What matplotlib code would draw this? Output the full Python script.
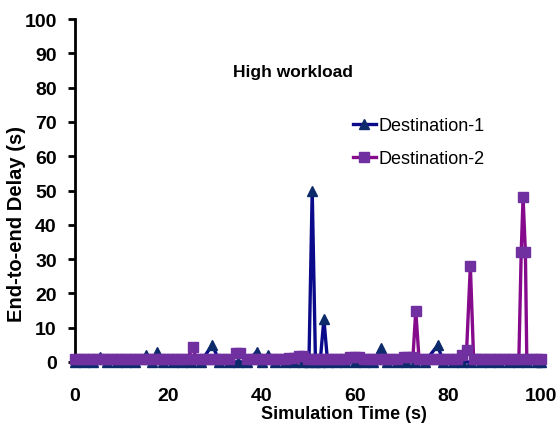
import matplotlib
matplotlib.use("Agg")
import matplotlib.pyplot as plt

# ---- data ----
d1_time = [0, 2, 4, 5.5, 7, 9, 11, 13, 15.2, 16.5, 17.7, 19, 21, 23, 25, 27,
           29.5, 31, 33, 35, 37, 39, 40.2, 41.4, 43, 45, 47, 49, 50.2, 50.9,
           51.6, 52.6, 53.4, 54.2, 56, 58, 60, 62, 64, 65.6, 67, 69, 71, 73,
           75, 77.8, 79, 81, 83, 85, 87, 89, 91, 93, 95, 97, 99, 100]
d1_delay = [0, 0, 0, 1.5, 0, 0, 0, 0, 2, 0, 3, 0, 0, 0, 0, 0,
            5, 0, 0, 0, 0, 3, 0, 2, 0, 0, 0, 0, 0, 50,
            0, 0, 12.5, 0, 0, 0, 0, 0, 0, 4, 0, 0, 0, 0,
            0, 4.8, 0, 0, 0, 0, 0, 0, 0, 0, 0, 0, 0, 0]

d2_time = [0, 1, 2, 3, 4, 5, 6, 7, 8, 9, 10, 11, 12, 13, 14, 15, 16, 17, 18,
           19, 20, 21, 22, 23, 24, 25.4, 26, 27, 28, 29, 30, 31, 32, 33, 34.5,
           35.5, 37, 38, 39, 40, 41, 42, 43, 44, 45, 46, 47, 48, 49, 50, 51,
           52, 53, 54, 55, 56, 57, 58, 59, 60, 61, 62, 63, 64, 65, 66, 67, 68,
           69, 70.5, 71.5, 72.5, 73.1, 73.8, 75, 76, 77, 78, 79, 80, 81, 82,
           83, 84, 84.8, 85.5, 86, 87, 88, 89, 90, 91, 92, 93, 94, 95.2, 95.7,
           96.1, 96.6, 96.9, 98, 99, 100]
d2_delay = [0.8, 0.8, 0.8, 0.8, 0.8, 0.8, 0.8, 0.8, 0.8, 0.8, 0.8, 0.8, 1.0, 1.0, 0.8, 0.8, 0.8, 0.8, 0.8,
            0.8, 0.8, 0.8, 1.0, 1.0, 0.8, 4.3, 0.8, 0.8, 0.8, 0.8, 0.8, 0.8, 0.8, 0.8, 2.6,
            2.6, 0.8, 0.8, 0.8, 0.8, 0.8, 0.8, 0.8, 0.8, 0.8, 1.2, 1.2, 1.6, 1.6, 1.0, 0.8,
            0.8, 0.8, 0.8, 0.8, 0.8, 0.8, 0.8, 1.5, 1.5, 1.5, 0.8, 0.8, 0.8, 0.8, 0.8, 0.8, 0.8,
            0.8, 1.5, 1.5, 1.5, 15, 0.8, 0.8, 0.8, 0.8, 0.8, 0.8, 0.8, 0.8, 0.8,
            2.0, 3.5, 28, 0.8, 0.8, 0.8, 0.8, 0.8, 0.8, 0.8, 0.8, 0.8, 0.8, 0.8, 32,
            48, 32, 0.8, 0.8, 0.8, 0.8]

series_names = ["Destination-1", "Destination-2"]
x_ticks = [0, 20, 40, 60, 80, 100]
y_ticks = [0, 10, 20, 30, 40, 50, 60, 70, 80, 90, 100]

plt.rcParams['font.family'] = ['Liberation Sans', 'DejaVu Sans']

fig = plt.figure(figsize=(5.58, 4.27), dpi=100)
ax = fig.add_axes([0.134, 0.150, 0.836, 0.803])

ax.plot(d1_time, d1_delay, color='#0a0a8a', lw=2.4, marker='^', ms=7,
        mfc='#0d2b6b', mec='#0d2b6b', label=series_names[0], clip_on=False, zorder=2)
ax.plot(d2_time, d2_delay, color='#860a8c', lw=2.4, marker='s', ms=7.5,
        mfc='#7030a0', mec='#7030a0', label=series_names[1], clip_on=False, zorder=3)

ax.set_xlim(0, 100)
ax.set_ylim(0, 100)
ax.set_xticks(x_ticks)
ax.set_yticks(y_ticks)

for s in ['top', 'right', 'bottom']:
    ax.spines[s].set_visible(False)
ax.spines['left'].set_linewidth(2)
ax.spines['left'].set_color('black')

ax.tick_params(axis='y', direction='out', length=5, width=2, pad=8, labelsize=14)
ax.tick_params(axis='x', length=0, pad=18, labelsize=14)
for lab in ax.get_xticklabels() + ax.get_yticklabels():
    lab.set_fontweight('bold')

ax.set_xlabel("Simulation Time (s)", fontsize=13, fontweight='bold')
ax.xaxis.set_label_coords(0.577, -0.125)
ax.set_ylabel("End-to-end Delay (s)", fontsize=14.5, fontweight='bold')
ax.yaxis.set_label_coords(-0.105, 0.405)

ax.text(0.468, 0.848, "High workload", transform=ax.transAxes, ha='center',
        va='center', fontsize=12.5, fontweight='bold')

leg = ax.legend(loc='upper left', bbox_to_anchor=(0.58, 0.735), frameon=False,
                fontsize=13, handlelength=1.3, handletextpad=0.15,
                labelspacing=0.9, borderaxespad=0)

fig.savefig("out.png", dpi=100)
